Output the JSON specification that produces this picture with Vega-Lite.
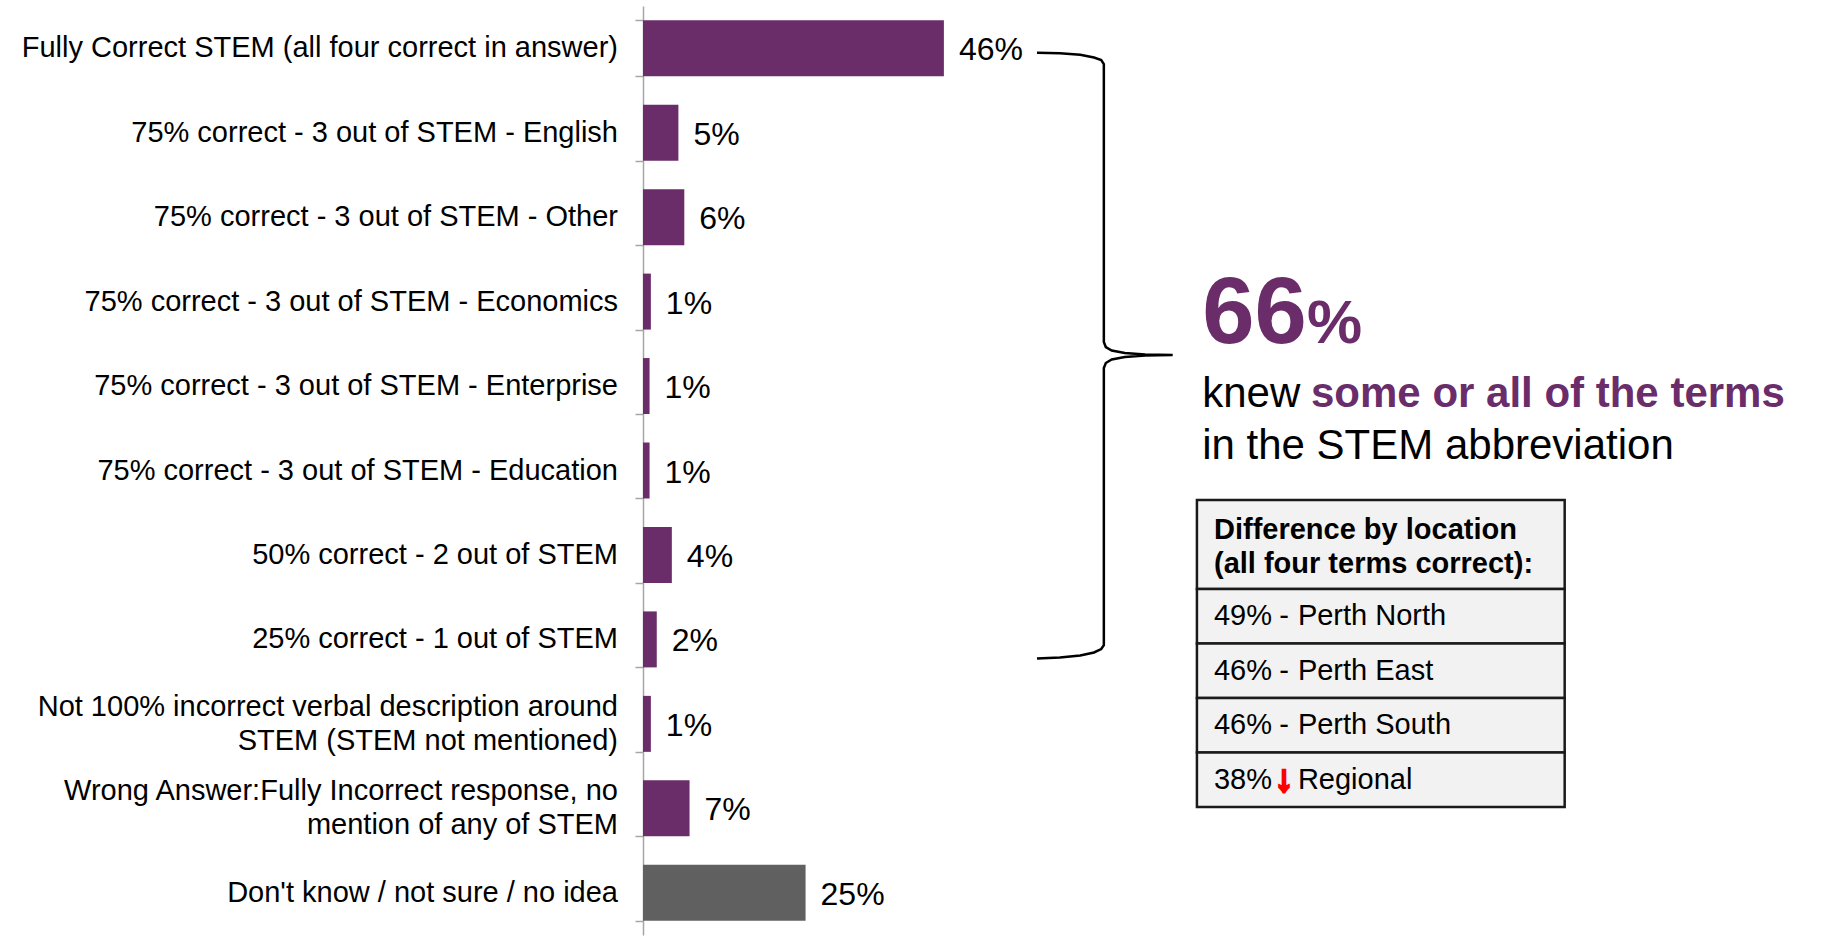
{
  "$schema": "https://vega.github.io/schema/vega-lite/v6.json",
  "autosize": {"type": "none"},
  "padding": {"left": 643, "top": 6, "right": 0, "bottom": 1},
  "width": 1178,
  "height": 929,
  "background": "white",
  "config": {"view": {"stroke": null}, "font": "Liberation Sans"},
  "resolve": {"scale": {"y": "independent"}},
  "layer": [
    {
      "data": {"values": [
        {"answer": "Fully Correct STEM (all four correct in answer)", "share": 0.459, "group": "knew"},
        {"answer": "75% correct - 3 out of STEM - English", "share": 0.054, "group": "knew"},
        {"answer": "75% correct - 3 out of STEM - Other", "share": 0.063, "group": "knew"},
        {"answer": "75% correct - 3 out of STEM - Economics", "share": 0.012, "group": "knew"},
        {"answer": "75% correct - 3 out of STEM - Enterprise", "share": 0.010, "group": "knew"},
        {"answer": "75% correct - 3 out of STEM - Education", "share": 0.010, "group": "knew"},
        {"answer": "50% correct - 2 out of STEM", "share": 0.044, "group": "knew"},
        {"answer": "25% correct - 1 out of STEM", "share": 0.021, "group": "knew"},
        {"answer": "Not 100% incorrect verbal description around\nSTEM (STEM not mentioned)", "share": 0.012, "group": "knew"},
        {"answer": "Wrong Answer:Fully Incorrect response, no\nmention of any of STEM", "share": 0.071, "group": "knew"},
        {"answer": "Don't know / not sure / no idea", "share": 0.248, "group": "unsure"}
      ]},
      "encoding": {
        "y": {
          "field": "answer", "type": "nominal", "sort": null,
          "scale": {"paddingInner": 0.337, "paddingOuter": 0.1685},
          "axis": {
            "title": null,
            "domainColor": "#a6a6a6", "domainWidth": 1.5,
            "tickColor": "#a6a6a6", "tickWidth": 1.5, "tickSize": 8,
            "tickBand": "extent",
            "labels": false
          }
        },
        "x": {"field": "share", "type": "quantitative", "scale": {"domain": [0, 1.797], "nice": false, "zero": true}, "axis": null}
      },
      "layer": [
        {
          "mark": {"type": "bar"},
          "encoding": {
            "color": {"field": "group", "type": "nominal", "scale": {"domain": ["knew", "unsure"], "range": ["#6A2D6A", "#606060"]}, "legend": null}
          }
        },
        {
          "mark": {"type": "text", "align": "left", "baseline": "middle", "dx": 15, "dy": 2, "fontSize": 32, "font": "Liberation Sans", "color": "#000000"},
          "encoding": {"text": {"field": "share", "type": "quantitative", "format": ".0%"}}
        },
        {
          "transform": [{"filter": "indexof(datum.answer, '\\n') < 0"}],
          "mark": {"type": "text", "align": "right", "baseline": "middle", "dx": -25, "fontSize": 29, "font": "Liberation Sans", "color": "#000000"},
          "encoding": {
            "x": {"datum": 0, "type": "quantitative", "scale": {"domain": [0, 1.797], "nice": false, "zero": true}, "axis": null},
            "text": {"field": "answer"}
          }
        },
        {
          "transform": [
            {"filter": "indexof(datum.answer, '\\n') >= 0"},
            {"calculate": "split(datum.answer, '\\n')", "as": "lines"}
          ],
          "mark": {"type": "text", "align": "right", "baseline": "middle", "dx": -25, "dy": -17, "lineHeight": 34, "fontSize": 29, "font": "Liberation Sans", "color": "#000000"},
          "encoding": {
            "x": {"datum": 0, "type": "quantitative", "scale": {"domain": [0, 1.797], "nice": false, "zero": true}, "axis": null},
            "text": {"field": "lines"}
          }
        }
      ]
    },
    {
      "layer": [
        {
          "data": {"values": [
            {"x": 0.601, "y": 0.553, "i": 1},
            {"x": 0.636, "y": 0.559, "i": 2},
            {"x": 0.667, "y": 0.578, "i": 3},
            {"x": 0.688, "y": 0.610, "i": 4},
            {"x": 0.699, "y": 0.639, "i": 5},
            {"x": 0.703, "y": 0.687, "i": 6},
            {"x": 0.703, "y": 3.979, "i": 7},
            {"x": 0.706, "y": 4.038, "i": 8},
            {"x": 0.715, "y": 4.079, "i": 9},
            {"x": 0.735, "y": 4.109, "i": 10},
            {"x": 0.766, "y": 4.127, "i": 11},
            {"x": 0.808, "y": 4.133, "i": 12},
            {"x": 0.766, "y": 4.139, "i": 13},
            {"x": 0.735, "y": 4.156, "i": 14},
            {"x": 0.715, "y": 4.186, "i": 15},
            {"x": 0.706, "y": 4.227, "i": 16},
            {"x": 0.703, "y": 4.287, "i": 17},
            {"x": 0.703, "y": 7.567, "i": 18},
            {"x": 0.699, "y": 7.614, "i": 19},
            {"x": 0.688, "y": 7.655, "i": 20},
            {"x": 0.667, "y": 7.691, "i": 21},
            {"x": 0.636, "y": 7.715, "i": 22},
            {"x": 0.601, "y": 7.727, "i": 23}
          ]},
          "mark": {"type": "line", "color": "#000000", "strokeWidth": 2.5, "interpolate": "linear"},
          "encoding": {
            "x": {"field": "x", "type": "quantitative", "scale": {"domain": [0, 1.797], "nice": false, "zero": true}, "axis": null},
            "y": {"field": "y", "type": "quantitative", "scale": {"domain": [0, 11], "reverse": true, "nice": false, "zero": false}, "axis": null},
            "order": {"field": "i", "type": "quantitative"}
          }
        },
        {
          "data": {"values": [{"t": "66"}]},
          "mark": {"type": "text", "font": "Liberation Sans", "fontWeight": "bold", "fontSize": 94, "color": "#6A2D6A", "align": "left", "baseline": "alphabetic"},
          "encoding": {
            "x": {"datum": 0.853, "type": "quantitative", "scale": {"domain": [0, 1.797], "nice": false, "zero": true}, "axis": null},
            "y": {"datum": 3.99, "type": "quantitative", "scale": {"domain": [0, 11], "reverse": true, "nice": false, "zero": false}, "axis": null},
            "text": {"field": "t"}
          }
        },
        {
          "data": {"values": [{"t": "%"}]},
          "mark": {"type": "text", "font": "Liberation Sans", "fontWeight": "bold", "fontSize": 62, "color": "#6A2D6A", "align": "left", "baseline": "alphabetic"},
          "encoding": {
            "x": {"datum": 1.013, "type": "quantitative", "scale": {"domain": [0, 1.797], "nice": false, "zero": true}, "axis": null},
            "y": {"datum": 3.99, "type": "quantitative", "scale": {"domain": [0, 11], "reverse": true, "nice": false, "zero": false}, "axis": null},
            "text": {"field": "t"}
          }
        },
        {
          "data": {"values": [{"t": "knew"}]},
          "mark": {"type": "text", "font": "Liberation Sans", "fontSize": 42, "color": "#000000", "align": "left", "baseline": "alphabetic"},
          "encoding": {
            "x": {"datum": 0.853, "type": "quantitative", "scale": {"domain": [0, 1.797], "nice": false, "zero": true}, "axis": null},
            "y": {"datum": 4.748, "type": "quantitative", "scale": {"domain": [0, 11], "reverse": true, "nice": false, "zero": false}, "axis": null},
            "text": {"field": "t"}
          }
        },
        {
          "data": {"values": [{"t": "some or all of the terms"}]},
          "mark": {"type": "text", "font": "Liberation Sans", "fontWeight": "bold", "fontSize": 42, "color": "#6A2D6A", "align": "left", "baseline": "alphabetic"},
          "encoding": {
            "x": {"datum": 1.019, "type": "quantitative", "scale": {"domain": [0, 1.797], "nice": false, "zero": true}, "axis": null},
            "y": {"datum": 4.748, "type": "quantitative", "scale": {"domain": [0, 11], "reverse": true, "nice": false, "zero": false}, "axis": null},
            "text": {"field": "t"}
          }
        },
        {
          "data": {"values": [{"t": "in the STEM abbreviation"}]},
          "mark": {"type": "text", "font": "Liberation Sans", "fontSize": 42, "color": "#000000", "align": "left", "baseline": "alphabetic"},
          "encoding": {
            "x": {"datum": 0.853, "type": "quantitative", "scale": {"domain": [0, 1.797], "nice": false, "zero": true}, "axis": null},
            "y": {"datum": 5.362, "type": "quantitative", "scale": {"domain": [0, 11], "reverse": true, "nice": false, "zero": false}, "axis": null},
            "text": {"field": "t"}
          }
        },
        {
          "data": {"values": [{"t": ["Difference by location", "(all four terms correct):"]}]},
          "layer": [
            {
              "mark": {"type": "rect", "fill": "#F2F2F2", "stroke": "#1A1A1A", "strokeWidth": 2.5},
              "encoding": {
                "x": {"datum": 0.845, "type": "quantitative", "scale": {"domain": [0, 1.797], "nice": false, "zero": true}, "axis": null},
                "x2": {"datum": 1.406},
                "y": {"datum": 5.85, "type": "quantitative", "scale": {"domain": [0, 11], "reverse": true, "nice": false, "zero": false}, "axis": null},
                "y2": {"datum": 6.903}
              }
            },
            {
              "mark": {"type": "text", "font": "Liberation Sans", "fontWeight": "bold", "fontSize": 29, "lineHeight": 34, "color": "#000000", "align": "left", "baseline": "middle"},
              "encoding": {
                "x": {"datum": 0.871, "type": "quantitative", "scale": {"domain": [0, 1.797], "nice": false, "zero": true}, "axis": null},
                "y": {"datum": 6.21, "type": "quantitative", "scale": {"domain": [0, 11], "reverse": true, "nice": false, "zero": false}, "axis": null},
                "text": {"field": "t"}
              }
            }
          ]
        }
      ]
    },
    {
      "data": {"values": [
        {"row": 1, "pct": "49%", "place": "Perth North", "change": "none"},
        {"row": 2, "pct": "46%", "place": "Perth East", "change": "none"},
        {"row": 3, "pct": "46%", "place": "Perth South", "change": "none"},
        {"row": 4, "pct": "38%", "place": "Regional", "change": "down"}
      ]},
      "encoding": {
        "y": {"field": "row", "type": "ordinal", "scale": {"domain": [1, 2, 3, 4], "range": [583, 801], "paddingInner": 0, "paddingOuter": 0}, "axis": null}
      },
      "layer": [
        {
          "mark": {"type": "rect", "fill": "#F2F2F2", "stroke": "#1A1A1A", "strokeWidth": 2.5},
          "encoding": {
            "x": {"datum": 0.845, "type": "quantitative", "scale": {"domain": [0, 1.797], "nice": false, "zero": true}, "axis": null},
            "x2": {"datum": 1.406}
          }
        },
        {
          "mark": {"type": "text", "font": "Liberation Sans", "fontSize": 29, "color": "#000000", "align": "left", "baseline": "middle"},
          "encoding": {
            "x": {"datum": 0.871, "type": "quantitative", "scale": {"domain": [0, 1.797], "nice": false, "zero": true}, "axis": null},
            "text": {"field": "pct"}
          }
        },
        {
          "transform": [{"filter": "datum.change === 'none'"}],
          "mark": {"type": "text", "font": "Liberation Sans", "fontSize": 29, "color": "#000000", "align": "center", "baseline": "middle"},
          "encoding": {
            "x": {"datum": 0.978, "type": "quantitative", "scale": {"domain": [0, 1.797], "nice": false, "zero": true}, "axis": null},
            "text": {"value": "-"}
          }
        },
        {
          "transform": [{"filter": "datum.change === 'down'"}],
          "mark": {"type": "text", "font": "Liberation Sans", "fontWeight": "bold", "fontSize": 37, "color": "#FF0000", "stroke": "#FF0000", "strokeWidth": 3, "align": "center", "baseline": "middle"},
          "encoding": {
            "x": {"datum": 0.978, "type": "quantitative", "scale": {"domain": [0, 1.797], "nice": false, "zero": true}, "axis": null},
            "text": {"value": "↓"}
          }
        },
        {
          "mark": {"type": "text", "font": "Liberation Sans", "fontSize": 29, "color": "#000000", "align": "left", "baseline": "middle"},
          "encoding": {
            "x": {"datum": 0.999, "type": "quantitative", "scale": {"domain": [0, 1.797], "nice": false, "zero": true}, "axis": null},
            "text": {"field": "place"}
          }
        }
      ]
    }
  ]
}
